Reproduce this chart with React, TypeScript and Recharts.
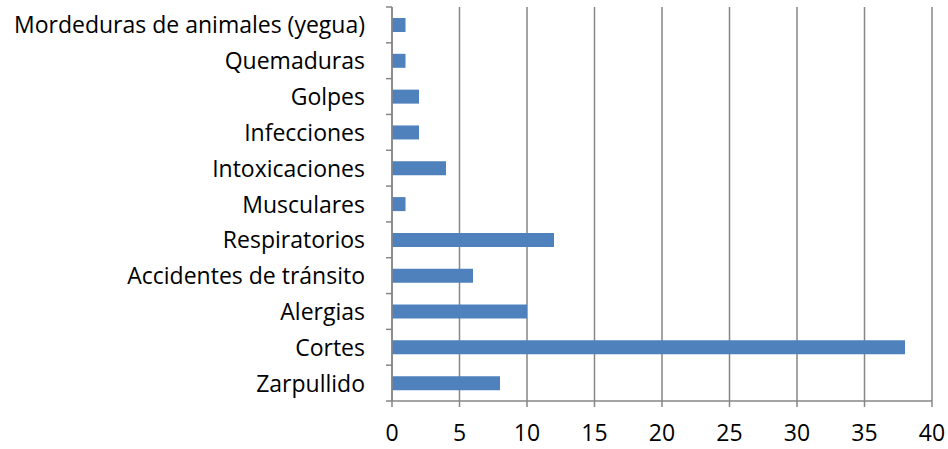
import { BarChart, Bar, XAxis, YAxis, CartesianGrid } from 'recharts';

const categories = [
  'Mordeduras de animales (yegua)',
  'Quemaduras',
  'Golpes',
  'Infecciones',
  'Intoxicaciones',
  'Musculares',
  'Respiratorios',
  'Accidentes de tránsito',
  'Alergias',
  'Cortes',
  'Zarpullido',
];
const casos = [1, 1, 2, 2, 4, 1, 12, 6, 10, 38, 8];
const xTicks = [0, 5, 10, 15, 20, 25, 30, 35, 40];

const data = categories.map((c, i) => ({ name: c, casos: casos[i] }));

const AXIS_X = 392;
const TOP = 7;
const BOTTOM = 401;
const band = (BOTTOM - TOP) / categories.length;
const FONT = "'Open Sans'";
const FONT_SIZE = 23;

// Excel-style category axis: tick marks sit between categories
function CategoryTick(props: any) {
  const { x, y, payload, index } = props;
  return (
    <g>
      <line x1={AXIS_X - 6} x2={AXIS_X} y1={y - band / 2} y2={y - band / 2} stroke="#868686" strokeWidth={1.5} />
      {index === categories.length - 1 && (
        <line x1={AXIS_X - 6} x2={AXIS_X} y1={y + band / 2} y2={y + band / 2} stroke="#868686" strokeWidth={1.5} />
      )}
      <text x={x} y={y} dy={8.5} textAnchor="end" fill="#000" fontSize={FONT_SIZE} fontFamily={FONT}>
        {payload.value}
      </text>
    </g>
  );
}

export default function App() {
  return (
    <div style={styles.container}>
      <BarChart
        width={948}
        height={449}
        data={data}
        layout="vertical"
        margin={{ top: TOP, right: 16, bottom: 0, left: 0 }}
      >
        <CartesianGrid horizontal={false} stroke="#868686" strokeWidth={1.5} />
        <XAxis
          type="number"
          domain={[0, 40]}
          ticks={xTicks}
          interval={0}
          height={48}
          stroke="#868686"
          strokeWidth={1.5}
          tickSize={6}
          tickMargin={18}
          tick={{ fill: '#000', fontSize: FONT_SIZE, fontFamily: FONT }}
        />
        <YAxis
          type="category"
          dataKey="name"
          width={AXIS_X}
          interval={0}
          stroke="#868686"
          strokeWidth={1.5}
          tickLine={false}
          tickSize={6}
          tickMargin={21}
          tick={<CategoryTick />}
        />
        <Bar dataKey="casos" fill="#4F81BD" barSize={14} isAnimationActive={false} />
      </BarChart>
    </div>
  );
}

const styles = {
  container: {
    position: 'absolute' as const,
    left: 0,
    top: 0,
    width: '948px',
    height: '449px',
    backgroundColor: '#fff',
  },
};
